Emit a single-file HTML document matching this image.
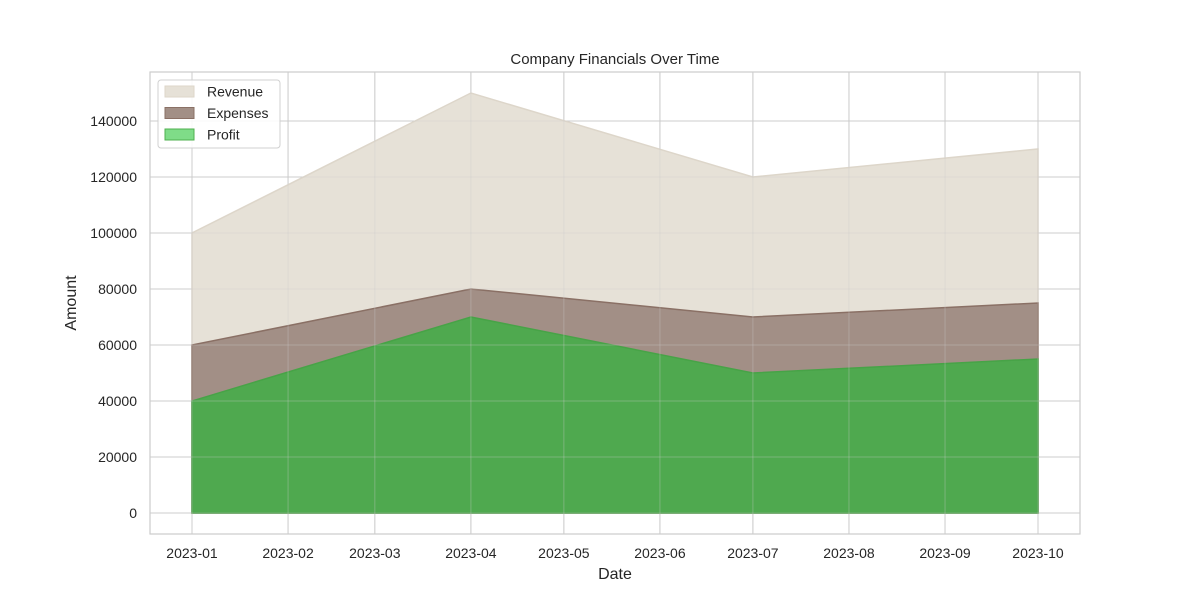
<!DOCTYPE html>
<html><head><meta charset="utf-8"><style>
body{margin:0;background:#fff;font-family:"Liberation Sans","DejaVu Sans",sans-serif}
</style></head><body>
<svg id="chart" width="1200" height="600" xmlns="http://www.w3.org/2000/svg"></svg>
<script>
const dates=["2023-01-01","2023-04-01","2023-07-01","2023-10-01"];
const revenue=[100000,150000,120000,130000];
const expenses=[60000,80000,70000,75000];
const profit=[40000,70000,50000,55000];
const xTickLabels=["2023-01","2023-02","2023-03","2023-04","2023-05","2023-06","2023-07","2023-08","2023-09","2023-10"];
const yTicks=[0,20000,40000,60000,80000,100000,120000,140000];

const svg=document.getElementById('chart');
const NS="http://www.w3.org/2000/svg";
const L=150,R=1080,T=72,B=534;
const d0=Date.parse("2023-01-01");
function days(s){return (Date.parse(s)-d0)/86400000;}
function xs(s){return 192+days(s)*(846/273);}
function ys(v){return 513-v*0.0028;}
function mk(tag,attrs){const e=document.createElementNS(NS,tag);for(const k in attrs)e.setAttribute(k,attrs[k]);svg.appendChild(e);return e;}

function grid(op){
yTicks.forEach(v=>{
  const g=mk('line',{x1:L,x2:R,y1:ys(v),y2:ys(v),stroke:'#cccccc','stroke-width':1,'stroke-opacity':op});
  
  
});
xTickLabels.forEach(s=>{
  const x=xs(s+"-01");
  const g=mk('line',{x1:x,x2:x,y1:T,y2:B,stroke:'#cccccc','stroke-width':1,'stroke-opacity':op});
  
  
});
}
grid(1);
yTicks.forEach(v=>{
  const t=mk('text',{x:137,y:ys(v)+5,'text-anchor':'end','font-size':14,fill:'#262626'});
  t.textContent=v;
  
  
});
xTickLabels.forEach(s=>{
  const x=xs(s+"-01");
  const t=mk('text',{x:x,y:558,'text-anchor':'middle','font-size':14,fill:'#262626'});
  t.textContent=s;
  
  
});

function area(vals,fill,stroke,name){
  let d="M"+xs(dates[0])+","+ys(0);
  vals.forEach((v,i)=>{d+=" L"+xs(dates[i])+","+ys(v);});
  d+=" L"+xs(dates[dates.length-1])+","+ys(0)+" Z";
  const p=mk('path',{d:d,fill:fill,stroke:stroke,'stroke-width':1.5});
  
  
}
area(revenue,'#e6e1d7','#ddd6ca','revenue-area');
area(expenses,'#a28f86','#8a7065','expenses-area');
area(profit,'#4fa94f','#47a347','profit-area');
grid(0.35);

const fr=mk('rect',{x:L,y:T,width:R-L,height:B-T,fill:'none',stroke:'#cccccc','stroke-width':1.2});



const title=mk('text',{x:615,y:64,'text-anchor':'middle','font-size':15,fill:'#262626'});
title.textContent="Company Financials Over Time";


const xt=mk('text',{x:615,y:579,'text-anchor':'middle','font-size':16,fill:'#262626'});
xt.textContent="Date";


const yt=mk('text',{x:76,y:303,'text-anchor':'middle','font-size':16,fill:'#262626',transform:'rotate(-90 76 303)'});
yt.textContent="Amount";



const lg=mk('rect',{x:158,y:80,width:122,height:68,rx:3,fill:'#ffffff','fill-opacity':0.85,stroke:'#d0d0d0'});


[["Revenue",'#e6e1d7','#ddd6ca'],["Expenses",'#a28f86','#8a7065'],["Profit",'#7fdc88','#4fb04f']].forEach((e,i)=>{
  const y=86+i*21.5;
  const r=mk('rect',{x:165,y:y,width:29,height:11,fill:e[1],stroke:e[2]});
  
  
  const t=mk('text',{x:207,y:y+10.5,'font-size':14,fill:'#262626'});
  t.textContent=e[0];
  
  
});
</script>
</body></html>
